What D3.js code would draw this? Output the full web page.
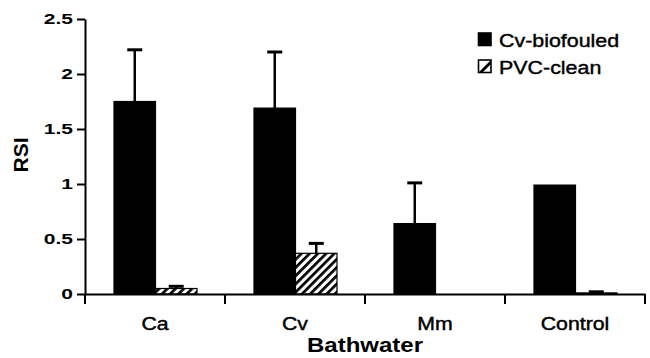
<!DOCTYPE html>
<html><head><meta charset="utf-8">
<script src="https://cdn.jsdelivr.net/npm/d3@7"></script>
<style>body{margin:0;background:#fff}svg{display:block}</style>
</head><body>
<script>
const categories = ["Ca", "Cv", "Mm", "Control"];
const seriesNames = ["Cv-biofouled", "PVC-clean"];
const biofouled = [1.75, 1.69, 0.64, 0.99];
const biofouledErr = [0.47, 0.51, 0.37, 0];
const clean = [0.05, 0.37, 0.0, 0.01];
const cleanErr = [0.02, 0.09, 0, 0.01];
const yTicks = [0, 0.5, 1, 1.5, 2, 2.5];

const W = 650, H = 358;
const svg = d3.select("body").append("svg").attr("width", W).attr("height", H);
const font = "'Liberation Sans', Arial, Helvetica, sans-serif";

const defs = svg.append("defs");
const pat = defs.append("pattern").attr("id", "hatch").attr("patternUnits", "userSpaceOnUse")
  .attr("width", 5.8).attr("height", 5.8).attr("patternTransform", "rotate(45)");
pat.append("rect").attr("width", 5.8).attr("height", 5.8).attr("fill", "#fff");
pat.append("rect").attr("x", 0).attr("width", 2.7).attr("height", 5.8).attr("fill", "#000");

const x = d3.scaleBand().domain(categories).range([85, 645]).padding(0);
const x1 = d3.scaleBand().domain(seriesNames).range([29, 112]).padding(0);
const y = d3.scaleLinear().domain([0, 2.5]).range([294, 19]);

const data = categories.map((c, i) => ({
  cat: c,
  vals: [
    {s: seriesNames[0], v: biofouled[i], e: biofouledErr[i]},
    {s: seriesNames[1], v: clean[i], e: cleanErr[i]}
  ]
}));

const fills = {"Cv-biofouled": "#000", "PVC-clean": "url(#hatch)"};

// bars
const g = svg.append("g");
const groups = g.selectAll("g.grp").data(data).join("g")
  .attr("transform", d => `translate(${x(d.cat)},0)`);
groups.selectAll("rect").data(d => d.vals.filter(v => v.v > 0)).join("rect")
  .attr("x", d => x1(d.s)).attr("width", x1.bandwidth())
  .attr("y", d => y(d.v)).attr("height", d => y(0) - y(d.v))
  .attr("fill", d => fills[d.s]).attr("stroke", "#000").attr("stroke-width", 1.2);

// error bars
groups.each(function(d) {
  const gg = d3.select(this);
  d.vals.filter(v => v.e > 0).forEach(v => {
    const cx = x1(v.s) + x1.bandwidth() / 2;
    gg.append("line").attr("x1", cx).attr("x2", cx)
      .attr("y1", y(v.v)).attr("y2", y(v.v + v.e))
      .attr("stroke", "#000").attr("stroke-width", 2.5);
    gg.append("line").attr("x1", cx - 7.5).attr("x2", cx + 7.5)
      .attr("y1", y(v.v + v.e)).attr("y2", y(v.v + v.e))
      .attr("stroke", "#000").attr("stroke-width", 3);
  });
});

// y axis
const sy = 1.5;
const yAx = svg.append("g").attr("transform", "translate(85,0)")
  .call(d3.axisLeft(y).tickValues(yTicks).tickFormat(d3.format("")).tickSize(8).tickSizeOuter(0));
yAx.select(".domain").attr("stroke-width", 2);
yAx.selectAll(".tick line").attr("stroke-width", 2);
yAx.selectAll(".tick text")
  .attr("font-family", font).attr("font-size", 14).attr("font-weight", "bold").attr("fill", "#000")
  .attr("x", -12 / sy).attr("transform", `scale(${sy},1)`);

// x axis
const sx = 1.12;
const xAx = svg.append("g").attr("transform", "translate(0,294)")
  .call(d3.axisBottom(x).tickSize(0).tickSizeOuter(0));
xAx.select(".domain").attr("stroke-width", 2.2);
xAx.selectAll(".tick text")
  .attr("font-family", font).attr("font-size", 19).attr("fill", "#000")
  .attr("stroke", "#000").attr("stroke-width", 0.45)
  .attr("dy", 0).attr("y", 36)
  .attr("x", 0).attr("transform", `scale(${sx},1)`);
const bounds = categories.map(c => x(c)).concat([x.range()[1]]);
xAx.selectAll("line.bound").data(bounds).join("line").attr("class", "bound")
  .attr("x1", d => d).attr("x2", d => d).attr("y1", 0).attr("y2", 10)
  .attr("stroke", "#000").attr("stroke-width", 2);

// axis titles
svg.append("text").attr("transform", "translate(28,155) rotate(-90)")
  .attr("text-anchor", "middle").attr("font-family", font).attr("font-size", 21)
  .attr("font-weight", "bold").text("RSI");
svg.append("text").attr("transform", `translate(${(85 + 645) / 2},352) scale(1.2,1)`)
  .attr("text-anchor", "middle").attr("font-family", font).attr("font-size", 20)
  .attr("font-weight", "bold").text("Bathwater");

// legend
const leg = svg.append("g");
seriesNames.forEach((s, i) => {
  const ly = 33 + i * 27;
  leg.append("rect").attr("x", 478.5).attr("y", ly).attr("width", 12.5).attr("height", 12.5)
    .attr("fill", s === seriesNames[0] ? "#000" : "#fff").attr("stroke", "#000").attr("stroke-width", 1.6);
  if (s !== seriesNames[0]) {
    leg.append("path")
      .attr("d", `M${478.5},${ly + 12.5} L${478.5 + 12.5},${ly} L${478.5 + 12.5},${ly + 4} L${478.5 + 4},${ly + 12.5} Z`)
      .attr("fill", "#000");
  }
  leg.append("text").attr("transform", `translate(499,${ly + 13.5}) scale(1.19,1)`)
    .attr("font-family", font).attr("font-size", 18).attr("fill", "#000")
    .attr("stroke", "#000").attr("stroke-width", 0.4).text(s);
});
</script>
</body></html>
